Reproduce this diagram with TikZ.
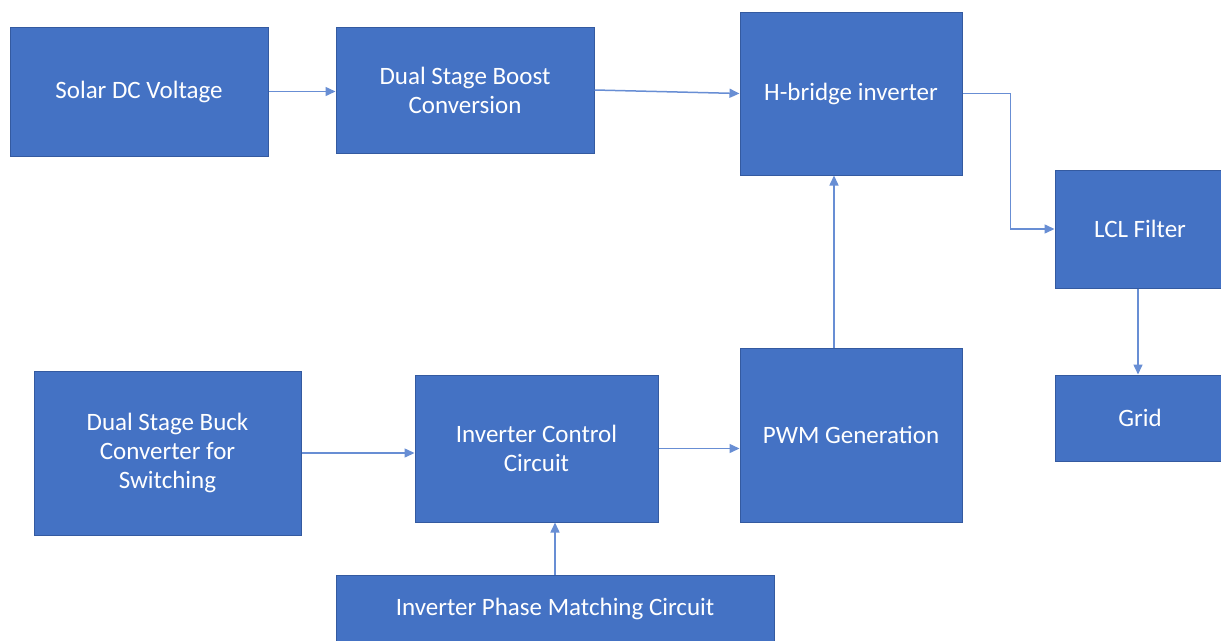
\documentclass[tikz,border=0pt]{standalone}
\usepackage{fontspec}
\setmainfont{Carlito}
\usetikzlibrary{arrows.meta,calc}
\definecolor{boxfill}{RGB}{68,114,196}
\definecolor{boxedge}{RGB}{52,90,160}
\definecolor{wire}{RGB}{104,142,212}
\tikzset{
  block/.style={draw=boxedge, line width=1pt, fill=boxfill, text=white,
    align=center, inner sep=0pt, font=\fontsize{25}{29}\selectfont},
  flow/.style={draw=wire, line width=1.5pt,
    -{Triangle[length=10pt,width=9pt]}}
}
\begin{document}
\begin{tikzpicture}[x=1pt,y=-1pt]
\useasboundingbox (0,0) rectangle (1221,640);
\fill[white] (0,0) rectangle (1221,640);
\clip (0,0) rectangle (1221,640);

% power path
\node[block, minimum width=258pt, minimum height=129pt] (solar) at (139,91.5) {Solar DC Voltage};
\node[block, minimum width=258pt, minimum height=126pt] (boost) at (465,90) {Dual Stage Boost\\Conversion};
\node[block, minimum width=222pt, minimum height=163pt] (hb) at (851,93.5) {H-bridge inverter};
\node[block, minimum width=170pt, minimum height=118pt] (lcl) at (1140,229) {LCL Filter};
\node[block, minimum width=170pt, minimum height=86pt] (grid) at (1140,418) {Grid};

% control path
\node[block, minimum width=267pt, minimum height=164pt] (buck) at (167.5,453) {Dual Stage Buck\\Converter for\\Switching};
\node[block, minimum width=243pt, minimum height=147pt] (ctrl) at (536.5,448.5) {Inverter Control\\Circuit};
\node[block, minimum width=222pt, minimum height=174pt] (pwm) at (851,435) {PWM Generation};
\node[block, minimum width=438pt, minimum height=68pt] (phase) at (555,609) {Inverter Phase Matching Circuit};

% connectors
\draw[flow] (solar.east) -- (solar.east -| boost.west);
\draw[flow] (boost.east) -- (hb.west);
\draw[flow] (hb.east) -- ++(48,0) |- (lcl.west);
\draw[flow] ([xshift=-17pt]pwm.north) -- ([xshift=-17pt]hb.south);
\draw[flow] ([xshift=-2pt]lcl.south) -- ([xshift=-2pt]grid.north);
\draw[flow] (buck.east) -- (buck.east -| ctrl.west);
\draw[flow] (ctrl.east) -- (ctrl.east -| pwm.west);
\draw[flow] (phase.north) -- (phase.north |- ctrl.south);
\end{tikzpicture}
\end{document}
